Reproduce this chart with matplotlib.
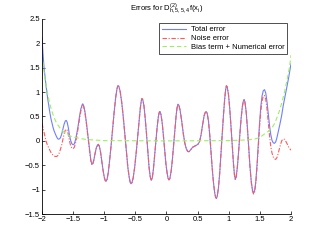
import numpy as np
import matplotlib
matplotlib.use("Agg")
import matplotlib.pyplot as plt

plt.rcParams['font.family'] = ['Liberation Sans', 'DejaVu Sans']
plt.rcParams['mathtext.fontset'] = 'custom'
plt.rcParams['mathtext.rm'] = 'Liberation Sans'
plt.rcParams['axes.unicode_minus'] = True

# x grid shared by the total and noise error curves
x_err = [-2.000, -1.984, -1.968, -1.952, -1.936, -1.920, -1.904, -1.887, -1.871, -1.855,
         -1.839, -1.823, -1.807, -1.785, -1.764, -1.745, -1.727, -1.705, -1.685, -1.665,
         -1.645, -1.625, -1.610, -1.595, -1.577, -1.560, -1.540, -1.520, -1.500, -1.480,
         -1.460, -1.440, -1.417, -1.395, -1.375, -1.355, -1.345, -1.330, -1.310, -1.290,
         -1.270, -1.250, -1.230, -1.215, -1.200, -1.185, -1.165, -1.145, -1.125, -1.105,
         -1.095, -1.080, -1.060, -1.040, -1.020, -1.000, -0.985, -0.970, -0.955, -0.935,
         -0.915, -0.890, -0.865, -0.840, -0.815, -0.795, -0.780, -0.765, -0.745, -0.720,
         -0.695, -0.670, -0.645, -0.620, -0.600, -0.585, -0.570, -0.555, -0.535, -0.510,
         -0.485, -0.460, -0.440, -0.420, -0.405, -0.395, -0.380, -0.362, -0.343, -0.322,
         -0.300, -0.280, -0.262, -0.245, -0.228, -0.210, -0.190, -0.170, -0.150, -0.130,
         -0.115, -0.105, -0.090, -0.070, -0.050, -0.030, -0.010, 0.010, 0.025, 0.040,
         0.055, 0.075, 0.095, 0.115, 0.135, 0.155, 0.170, 0.185, 0.200, 0.220,
         0.245, 0.270, 0.295, 0.320, 0.345, 0.365, 0.390, 0.420, 0.450, 0.480,
         0.505, 0.530, 0.555, 0.580, 0.605, 0.625, 0.640, 0.655, 0.675, 0.695,
         0.715, 0.735, 0.755, 0.775, 0.790, 0.802, 0.815, 0.835, 0.855, 0.875,
         0.895, 0.915, 0.935, 0.950, 0.962, 0.975, 0.995, 1.015, 1.035, 1.055,
         1.075, 1.092, 1.105, 1.120, 1.140, 1.160, 1.180, 1.200, 1.220, 1.235,
         1.247, 1.260, 1.280, 1.300, 1.320, 1.340, 1.360, 1.380, 1.398, 1.415,
         1.435, 1.455, 1.475, 1.495, 1.515, 1.535, 1.555, 1.575, 1.595, 1.615,
         1.635, 1.655, 1.675, 1.695, 1.715, 1.735, 1.755, 1.775, 1.796, 1.820,
         1.850, 1.875, 1.900, 1.930, 1.960, 1.980, 2.000]

total_err = [2.12, 1.80, 1.52, 1.32, 1.14, 0.98, 0.83, 0.69, 0.56, 0.45,
             0.36, 0.28, 0.21, 0.14, 0.08, 0.04, 0.035, 0.06, 0.13, 0.24,
             0.34, 0.41, 0.42, 0.38, 0.27, 0.13, 0.01, -0.06, -0.08, -0.06,
             0.03, 0.16, 0.33, 0.52, 0.66, 0.74, 0.76, 0.72, 0.60, 0.41,
             0.19, -0.03, -0.25, -0.40, -0.48, -0.47, -0.38, -0.24, -0.13, -0.08,
             -0.07, -0.10, -0.22, -0.40, -0.59, -0.74, -0.81, -0.83, -0.79, -0.65,
             -0.42, -0.10, 0.25, 0.60, 0.90, 1.07, 1.13, 1.12, 1.02, 0.80,
             0.50, 0.15, -0.22, -0.55, -0.74, -0.84, -0.88, -0.86, -0.76, -0.53,
             -0.22, 0.13, 0.42, 0.68, 0.82, 0.87, 0.84, 0.72, 0.48, 0.16,
             -0.22, -0.54, -0.73, -0.81, -0.76, -0.58, -0.30, 0.00, 0.28, 0.50,
             0.59, 0.60, 0.55, 0.38, 0.12, -0.18, -0.46, -0.66, -0.77, -0.80,
             -0.77, -0.62, -0.38, -0.08, 0.24, 0.52, 0.68, 0.75, 0.73, 0.62,
             0.40, 0.15, -0.05, -0.17, -0.22, -0.22, -0.18, -0.13, -0.11, -0.09,
             -0.07, -0.02, 0.12, 0.33, 0.52, 0.59, 0.60, 0.56, 0.40, 0.12,
             -0.22, -0.57, -0.86, -1.07, -1.16, -1.18, -1.14, -0.96, -0.66, -0.28,
             0.13, 0.52, 0.86, 1.05, 1.13, 1.11, 0.96, 0.68, 0.32, -0.08,
             -0.45, -0.70, -0.79, -0.74, -0.52, -0.20, 0.16, 0.48, 0.72, 0.82,
             0.85, 0.80, 0.60, 0.27, -0.12, -0.50, -0.81, -1.00, -1.07, -1.03,
             -0.83, -0.48, -0.06, 0.36, 0.70, 0.92, 1.03, 1.05, 0.98, 0.80,
             0.56, 0.32, 0.13, 0.01, -0.04, -0.05, -0.02, 0.07, 0.19, 0.33,
             0.52, 0.72, 0.88, 1.08, 1.28, 1.43, 1.58]

noise_err = [0.36, 0.27, 0.17, 0.08, 0.00, -0.06, -0.11, -0.16, -0.20, -0.24,
             -0.27, -0.29, -0.31, -0.32, -0.32, -0.30, -0.26, -0.18, -0.09, 0.03,
             0.14, 0.22, 0.24, 0.22, 0.13, 0.01, -0.10, -0.15, -0.16, -0.13,
             -0.04, 0.10, 0.28, 0.47, 0.62, 0.71, 0.73, 0.70, 0.58, 0.39,
             0.17, -0.05, -0.26, -0.41, -0.49, -0.48, -0.39, -0.25, -0.14, -0.09,
             -0.08, -0.11, -0.23, -0.41, -0.60, -0.75, -0.81, -0.83, -0.79, -0.65,
             -0.42, -0.10, 0.25, 0.60, 0.90, 1.07, 1.13, 1.12, 1.02, 0.80,
             0.50, 0.15, -0.22, -0.55, -0.74, -0.84, -0.88, -0.86, -0.76, -0.53,
             -0.22, 0.13, 0.42, 0.68, 0.82, 0.87, 0.84, 0.72, 0.48, 0.16,
             -0.22, -0.54, -0.73, -0.81, -0.76, -0.58, -0.30, 0.00, 0.28, 0.50,
             0.59, 0.60, 0.55, 0.38, 0.12, -0.18, -0.46, -0.66, -0.77, -0.80,
             -0.77, -0.62, -0.38, -0.08, 0.24, 0.52, 0.68, 0.75, 0.73, 0.62,
             0.40, 0.15, -0.05, -0.17, -0.22, -0.22, -0.18, -0.13, -0.11, -0.09,
             -0.07, -0.02, 0.12, 0.33, 0.52, 0.59, 0.60, 0.56, 0.40, 0.12,
             -0.22, -0.57, -0.86, -1.07, -1.16, -1.18, -1.14, -0.96, -0.66, -0.28,
             0.13, 0.52, 0.86, 1.05, 1.13, 1.11, 0.96, 0.68, 0.32, -0.08,
             -0.45, -0.70, -0.79, -0.74, -0.52, -0.20, 0.16, 0.47, 0.71, 0.81,
             0.84, 0.79, 0.59, 0.26, -0.13, -0.52, -0.83, -1.02, -1.09, -1.06,
             -0.87, -0.53, -0.12, 0.29, 0.61, 0.82, 0.92, 0.93, 0.85, 0.65,
             0.38, 0.11, -0.11, -0.25, -0.33, -0.37, -0.38, -0.34, -0.25, -0.13,
             0.00, 0.04, 0.03, -0.04, -0.12, -0.16, -0.19]

# bias term + numerical error (smooth, own grid)
x_bias = [-2.000, -1.976, -1.952, -1.926, -1.900, -1.875, -1.847, -1.810, -1.764, -1.720,
          -1.685, -1.620, -1.550, -1.470, -1.390, -1.300, -1.200, -1.000, 0.000, 1.000,
          1.200, 1.300, 1.410, 1.500, 1.582, 1.640, 1.690, 1.730, 1.770, 1.810,
          1.850, 1.890, 1.930, 1.960, 1.980, 2.000]
bias_err = [1.77, 1.50, 1.28, 1.08, 0.91, 0.76, 0.63, 0.49, 0.36, 0.28,
            0.22, 0.15, 0.10, 0.07, 0.05, 0.03, 0.02, 0.005, 0.0, 0.005,
            0.015, 0.02, 0.035, 0.07, 0.15, 0.20, 0.26, 0.34, 0.46, 0.60,
            0.77, 0.97, 1.21, 1.40, 1.55, 1.76]

x_ticks = [-2, -1.5, -1, -0.5, 0, 0.5, 1, 1.5, 2]
x_labels = ['\u22122', '\u22121.5', '\u22121', '\u22120.5', '0', '0.5', '1', '1.5', '2']
y_ticks = [-1.5, -1, -0.5, 0, 0.5, 1, 1.5, 2, 2.5]
y_labels = ['\u22121.5', '\u22121', '\u22120.5', '0', '0.5', '1', '1.5', '2', '2.5']

fig = plt.figure(figsize=(3.21, 2.42), dpi=100)
ax = fig.add_axes([0.1308, 0.1157, 0.7757, 0.8058])

ax.plot(x_err, total_err, color='#6f7fff', linewidth=0.8, label='Total error')
ax.plot(x_err, noise_err, color='#ff5a5a', linewidth=0.8, linestyle='-.',
        dashes=(4, 1.5, 1, 1.5), label='Noise error')
ax.plot(x_bias, bias_err, color='#9cf060', linewidth=0.8, linestyle='--',
        dashes=(4, 2.5), label='Bias term + Numerical error')

ax.set_xlim(-2, 2)
ax.set_ylim(-1.5, 2.5)
ax.set_xticks(x_ticks)
ax.set_xticklabels(x_labels)
ax.set_yticks(y_ticks)
ax.set_yticklabels(y_labels)
ax.tick_params(direction='in', length=2.5, width=0.5, labelsize=5.5, pad=1.5)
ax.spines['top'].set_visible(False)
ax.spines['right'].set_visible(False)
for s in ['left', 'bottom']:
    ax.spines[s].set_linewidth(0.6)

ax.set_title(r'Errors for D$\mathregular{^{(2)}_{h,5,5,4}}$f(x$\mathregular{_i}$)',
             fontsize=5.5, pad=5)

leg = ax.legend(loc='upper right', bbox_to_anchor=(0.985, 0.98), fontsize=5.5,
                frameon=True, fancybox=False, handlelength=3.1, handletextpad=0.6,
                borderpad=0.4, labelspacing=0.2, borderaxespad=0)
leg.get_frame().set_edgecolor('black')
leg.get_frame().set_linewidth(0.6)

fig.savefig('out.png', dpi=100)
